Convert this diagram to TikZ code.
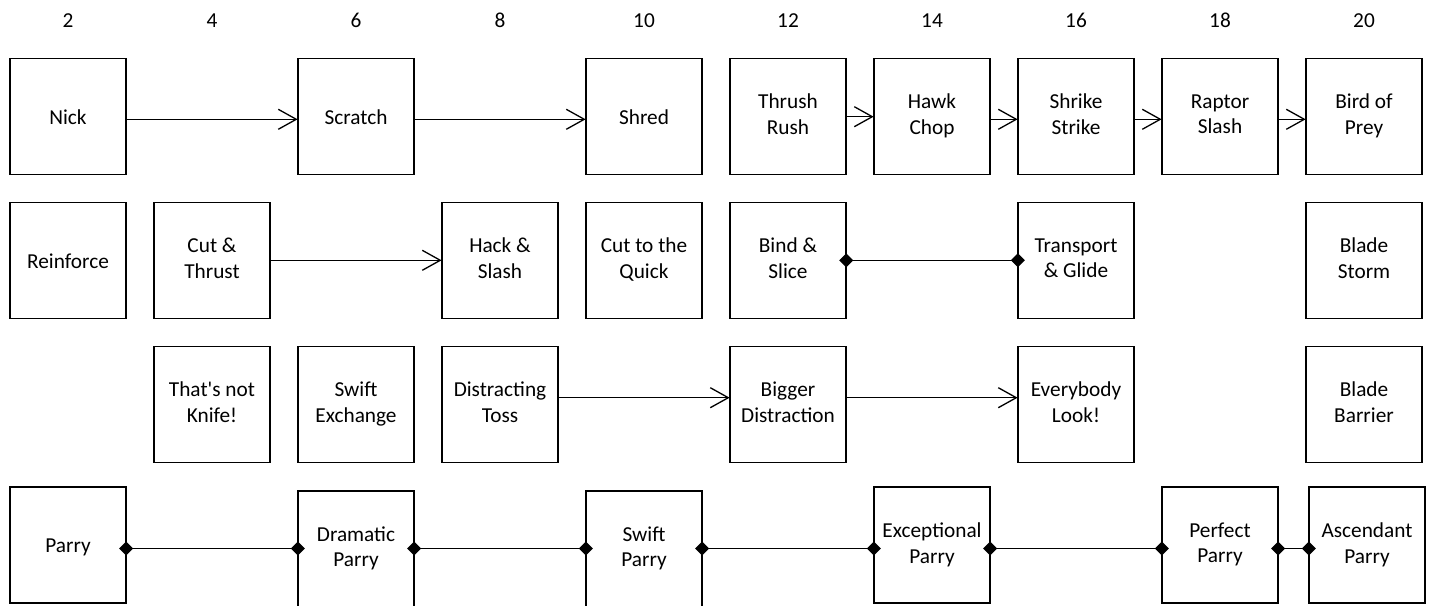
\documentclass[tikz,border=0pt]{standalone}
\usepackage{fontspec}
\setmainfont{Carlito}
\usetikzlibrary{arrows.meta,decorations.markings}
\newcommand\myst{\rule[-4.5pt]{0pt}{24.5pt}}
\begin{document}
\begin{tikzpicture}[x=1pt,y=-1pt,
  box/.style={draw, line width=1.4pt, minimum width=116pt, minimum height=116pt,
    inner sep=0pt, align=center, font=\fontsize{21.3}{25.7}\selectfont,
    execute at begin node=\myst, execute at end node=\myst},
  num/.style={anchor=base, inner sep=0pt, font=\fontsize{21.3}{25.7}\selectfont},
  arr/.style={line width=1.3pt, postaction={decorate},
    decoration={markings, mark=at position 0.9999 with {
      \draw[line width=1.3pt, line join=miter, line cap=butt]
        (-19pt,10pt) -- (-1pt,0pt) -- (-19pt,-10pt);}}},
  dia/.style={line width=1.3pt,
    {Diamond[length=14pt,width=14pt]}-{Diamond[length=14pt,width=14pt]},
    shorten <=-7.5pt, shorten >=-7.5pt}]
\fill[white] (0,0) rectangle (1429,605);
\useasboundingbox (0,0) rectangle (1429,605);

% column numbers
\foreach \n [count=\i from 0] in {2,4,6,8,10,12,14,16,18,20}
  \node[num] (n\n) at (68+144*\i,27.3) {\n};

% row 1
\node[box] (nick)    at (68,116.3)   {Nick};
\node[box] (scratch) at (356,116.3)  {Scratch};
\node[box] (shred)   at (644,116.3)  {Shred};
\node[box] (thrush)  at (788,116.3)  {Thrush\\Rush};
\node[box] (hawk)    at (932,116.3)  {Hawk\\Chop};
\node[box] (shrike)  at (1076,116.3) {Shrike\\Strike};
\node[box] (raptor)  at (1220,116.3) {Raptor\\Slash};
\node[box] (bird)    at (1364,116.3) {Bird of\\Prey};

% row 2
\node[box] (reinf)   at (68,260.3)   {Reinforce};
\node[box] (cut)     at (212,260.3)  {Cut \&\\Thrust};
\node[box] (hack)    at (500,260.3)  {Hack \&\\Slash};
\node[box] (quick)   at (644,260.3)  {Cut to the\\Quick};
\node[box] (bind)    at (788,260.3)  {Bind \&\\Slice};
\node[box] (transp)  at (1076,260.3) {Transport\\\& Glide};
\node[box] (storm)   at (1364,260.3) {Blade\\Storm};

% row 3
\node[box] (knife)   at (212,404.3)  {That\textquotesingle s not\\Knife!};
\node[box] (swex)    at (356,404.3)  {Swift\\Exchange};
\node[box] (toss)    at (500,404.3)  {Distracting\\Toss};
\node[box] (bigger)  at (788,404.3)  {Bigger\\Distraction};
\node[box] (look)    at (1076,404.3) {Everybody\\Look!};
\node[box] (barrier) at (1364,404.3) {Blade\\Barrier};

% row 4
\node[box] (parry)   at (68,545)     {Parry};
\node[box] (dparry)  at (356,549)    {Dramatic\\Parry};
\node[box] (sparry)  at (644,549)    {Swift\\Parry};
\node[box] (eparry)  at (932,545)    {Exceptional\\Parry};
\node[box] (pparry)  at (1220,545)   {Perfect\\Parry};
\node[box] (aparry)  at (1367,545)   {Ascendant\\Parry};
\coordinate (r4) at (0,548.5);

% arrows
\draw[arr] ([yshift=-3pt]nick.east) -- ([yshift=-3pt]scratch.west);
\draw[arr] ([yshift=-3pt]scratch.east) -- ([yshift=-3pt]shred.west);
\draw[arr] ([yshift=-0.4pt]thrush.east) -- ([yshift=-0.4pt]hawk.west);
\draw[arr] ([yshift=-3pt]hawk.east) -- ([yshift=-3pt]shrike.west);
\draw[arr] ([yshift=-3pt]shrike.east) -- ([yshift=-3pt]raptor.west);
\draw[arr] ([yshift=-3pt]raptor.east) -- ([yshift=-3pt]bird.west);
\draw[arr] (cut.east) -- (hack.west);
\draw[dia] (bind.east) -- (transp.west);
\draw[arr] ([yshift=6.6pt]toss.east) -- ([yshift=6.6pt]bigger.west);
\draw[arr] ([yshift=6.6pt]bigger.east) -- ([yshift=6.6pt]look.west);

% parry chain
\draw[dia] (parry.east |- r4) -- (dparry.west |- r4);
\draw[dia] (dparry.east |- r4) -- (sparry.west |- r4);
\draw[dia] (sparry.east |- r4) -- (eparry.west |- r4);
\draw[dia] (eparry.east |- r4) -- (pparry.west |- r4);
\draw[dia] (pparry.east |- r4) -- (aparry.west |- r4);
\end{tikzpicture}
\end{document}
